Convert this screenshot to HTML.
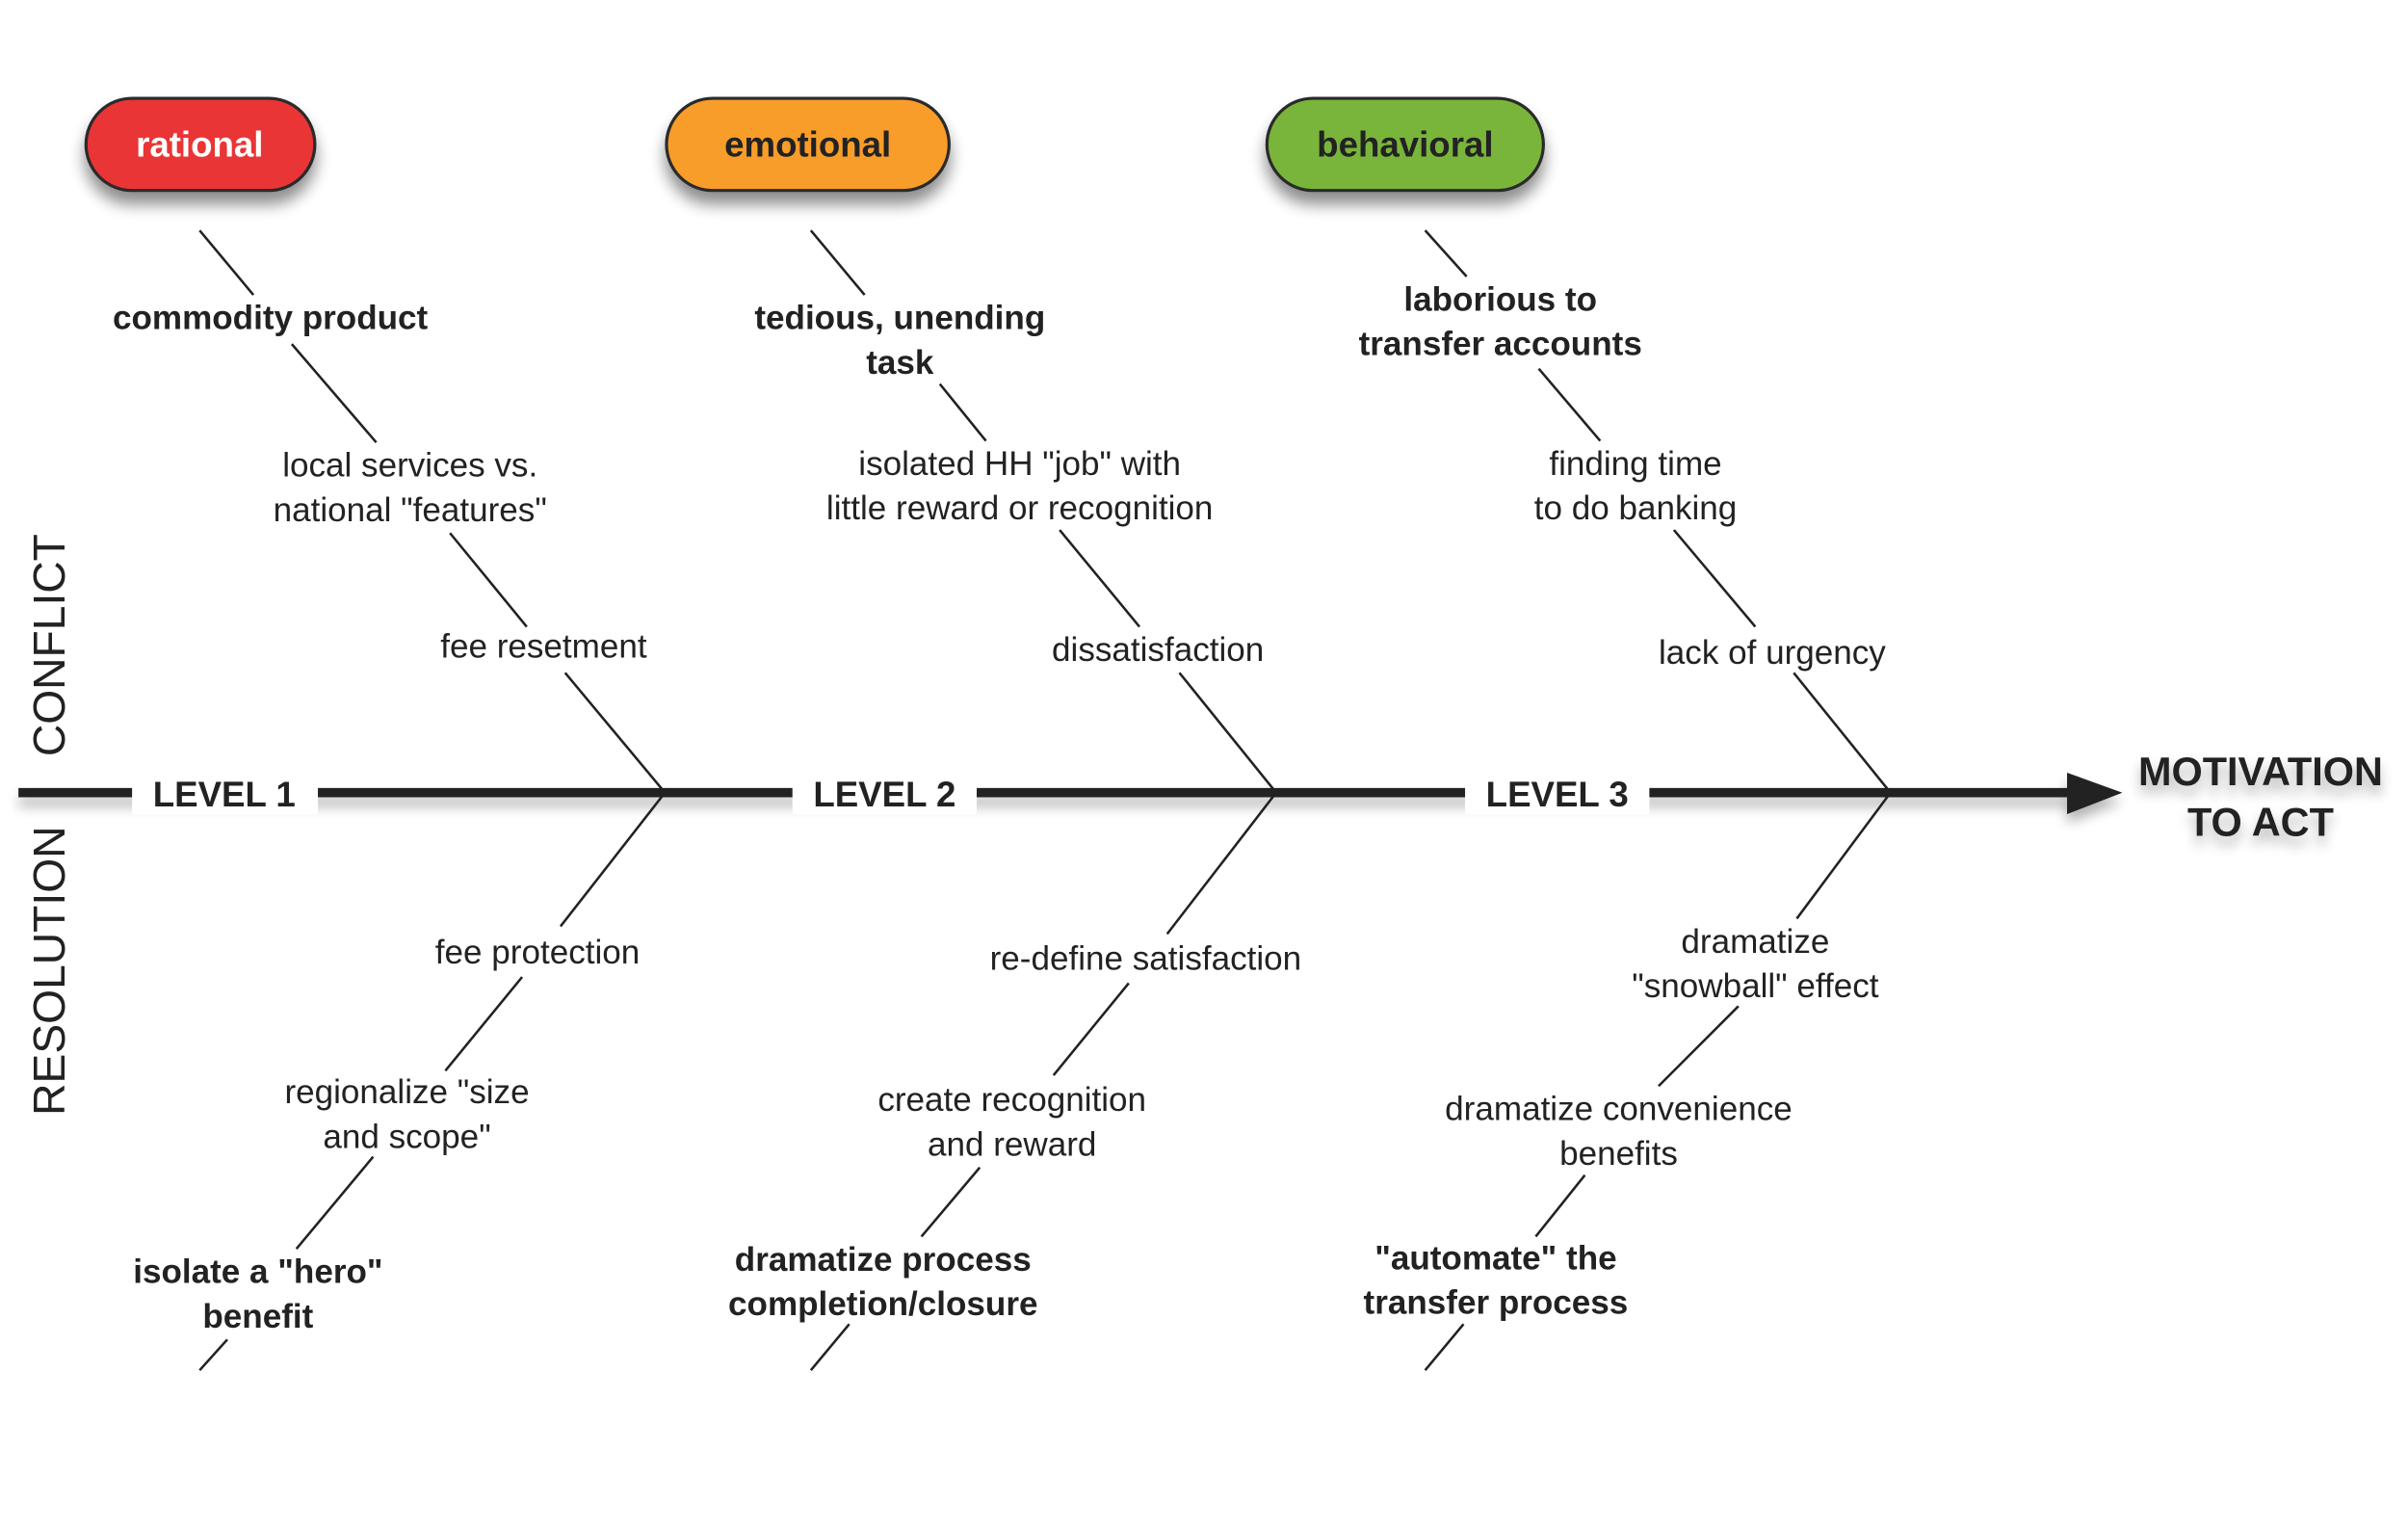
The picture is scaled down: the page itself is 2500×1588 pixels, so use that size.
<!DOCTYPE html>
<html><head><meta charset="utf-8"><style>
html,body{margin:0;padding:0;background:#fff}
svg{display:block}
text{font-family:"Liberation Sans",Arial,sans-serif;fill:#222}
.b{font-weight:bold}
</style></head><body>
<svg width="2500" height="1588" viewBox="0 0 1568 996" xmlns="http://www.w3.org/2000/svg">
<defs>
<filter id="sh" x="-30%" y="-30%" width="160%" height="190%"><feGaussianBlur in="SourceAlpha" stdDeviation="5"/><feOffset dy="8"/><feComponentTransfer><feFuncA type="linear" slope="0.45"/></feComponentTransfer><feMerge><feMergeNode/><feMergeNode in="SourceGraphic"/></feMerge></filter>
<filter id="sh2" x="-10%" y="-100%" width="120%" height="400%"><feGaussianBlur in="SourceAlpha" stdDeviation="4"/><feOffset dy="6"/><feComponentTransfer><feFuncA type="linear" slope="0.3"/></feComponentTransfer><feMerge><feMergeNode/><feMergeNode in="SourceGraphic"/></feMerge></filter>
</defs>
<!-- pills -->
<g filter="url(#sh)" stroke="#2a2a2a" stroke-width="2">
<rect x="56" y="64" width="149" height="60" rx="30" fill="#e93535"/>
<rect x="434" y="64" width="184" height="60" rx="30" fill="#f89d2a"/>
<rect x="825" y="64" width="180" height="60" rx="30" fill="#7ab53a"/>
</g>
<text x="130" y="94" class="b" font-size="23" text-anchor="middle" dominant-baseline="central" style="fill:#fff">rational</text>
<text x="526" y="94" class="b" font-size="23" text-anchor="middle" dominant-baseline="central">emotional</text>
<text x="915" y="94" class="b" font-size="23" text-anchor="middle" dominant-baseline="central">behavioral</text>
<!-- spine -->
<g filter="url(#sh2)">
<line x1="12" y1="516" x2="1352" y2="516" stroke="#222" stroke-width="6"/>
<polygon points="1346,503 1382,516 1346,530" fill="#222"/>
</g>
<rect x="86" y="502" width="121" height="28" fill="#fff"/>
<rect x="516" y="502" width="120" height="28" fill="#fff"/>
<rect x="954" y="502" width="120" height="28" fill="#fff"/>
<text x="146" y="517" class="b" font-size="23" text-anchor="middle" dominant-baseline="central">LEVEL 1</text>
<text x="576" y="517" class="b" font-size="23" text-anchor="middle" dominant-baseline="central">LEVEL 2</text>
<text x="1014" y="517" class="b" font-size="23" text-anchor="middle" dominant-baseline="central">LEVEL 3</text>
<g filter="url(#sh2)">
<text x="1472" y="502" class="b" font-size="26" text-anchor="middle" dominant-baseline="central">MOTIVATION</text>
<text x="1472" y="535" class="b" font-size="26" text-anchor="middle" dominant-baseline="central">TO ACT</text>
</g>
<text transform="translate(32,420) rotate(-90)" font-size="29" text-anchor="middle" dominant-baseline="central">CONFLICT</text>
<text transform="translate(32,632) rotate(-90)" font-size="29" text-anchor="middle" dominant-baseline="central">RESOLUTION</text>
<!-- bones -->
<g stroke="#222" stroke-width="1.6" fill="none">
<line x1="130" y1="150" x2="165" y2="192"/><line x1="190" y1="224" x2="245" y2="288"/><line x1="293" y1="347" x2="343" y2="408"/><line x1="368" y1="438" x2="433" y2="516"/>
<line x1="528" y1="150" x2="563" y2="192"/><line x1="612" y1="250" x2="642" y2="287"/><line x1="690" y1="345" x2="742" y2="408"/><line x1="768" y1="438" x2="831" y2="516"/>
<line x1="928" y1="150" x2="955" y2="180"/><line x1="1002" y1="240" x2="1042" y2="287"/><line x1="1090" y1="345" x2="1143" y2="408"/><line x1="1168" y1="438" x2="1231" y2="516"/>
<line x1="433" y1="516" x2="365" y2="603"/><line x1="340" y1="636" x2="290" y2="697"/><line x1="243" y1="753" x2="193" y2="813"/><line x1="148" y1="872" x2="130" y2="892"/>
<line x1="831" y1="516" x2="760" y2="608"/><line x1="735" y1="640" x2="686" y2="700"/><line x1="638" y1="760" x2="600" y2="805"/><line x1="553" y1="862" x2="528" y2="892"/>
<line x1="1231" y1="516" x2="1170" y2="598"/><line x1="1132" y1="655" x2="1080" y2="707"/><line x1="1032" y1="765" x2="1000" y2="805"/><line x1="953" y1="862" x2="928" y2="892"/>
</g>
<g font-size="22" text-anchor="middle" dominant-baseline="central">
<text x="176" y="207" class="b">commodity product</text>
<text x="267" y="303">local services vs.</text>
<text x="267" y="332">national "features"</text>
<text x="354" y="421">fee resetment</text>
<text x="586" y="207" class="b">tedious, unending</text>
<text x="586" y="236" class="b">task</text>
<text x="664" y="302">isolated HH "job" with</text>
<text x="664" y="331">little reward or recognition</text>
<text x="754" y="423">dissatisfaction</text>
<text x="977" y="195" class="b">laborious to</text>
<text x="977" y="224" class="b">transfer accounts</text>
<text x="1065" y="302">finding time</text>
<text x="1065" y="331">to do banking</text>
<text x="1154" y="425">lack of urgency</text>
<text x="350" y="620">fee protection</text>
<text x="265" y="711">regionalize "size</text>
<text x="265" y="740">and scope"</text>
<text x="168" y="828" class="b">isolate a "hero"</text>
<text x="168" y="857" class="b">benefit</text>
<text x="746" y="624">re-define satisfaction</text>
<text x="659" y="716">create recognition</text>
<text x="659" y="745">and reward</text>
<text x="575" y="820" class="b">dramatize process</text>
<text x="575" y="849" class="b">completion/closure</text>
<text x="1143" y="613">dramatize</text>
<text x="1143" y="642">"snowball" effect</text>
<text x="1054" y="722">dramatize convenience</text>
<text x="1054" y="751">benefits</text>
<text x="974" y="819" class="b">"automate" the</text>
<text x="974" y="848" class="b">transfer process</text>
</g>
</svg>
</body></html>
